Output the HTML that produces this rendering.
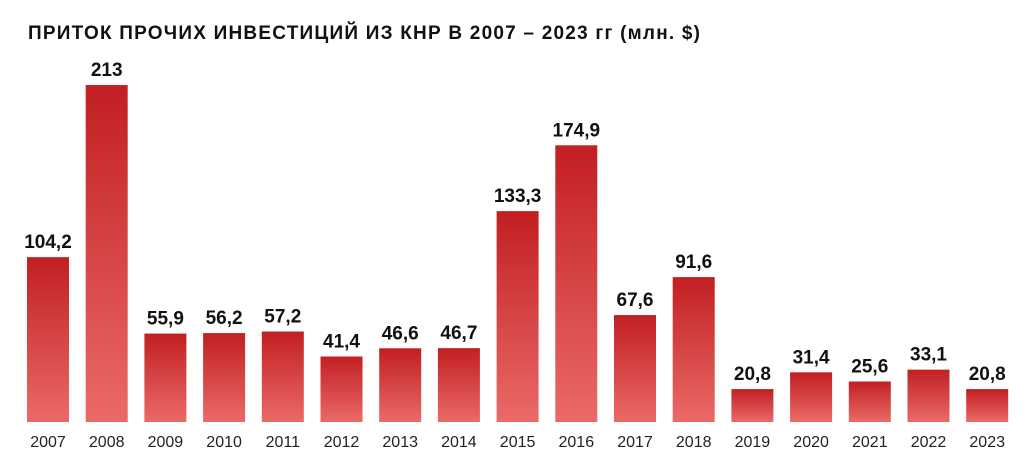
<!DOCTYPE html><html><head><meta charset="utf-8"><style>
body{margin:0;background:#fff;width:1024px;height:467px;overflow:hidden;font-family:"Liberation Sans",sans-serif}
</style></head><body>
<svg width="1024" height="467" xmlns="http://www.w3.org/2000/svg">
<defs><linearGradient id="g" x1="0" y1="0" x2="0" y2="1"><stop offset="0" stop-color="#c21f22"/><stop offset="1" stop-color="#ea6a67"/></linearGradient></defs>
<text x="28" y="39" font-size="19" font-weight="bold" fill="#111" textLength="672" lengthAdjust="spacing" font-family="Liberation Sans,sans-serif">ПРИТОК ПРОЧИХ ИНВЕСТИЦИЙ ИЗ КНР В 2007 – 2023 гг (млн. $)</text>
<g id="bars"></g>
</svg>
<script>
var d=[["2007",104.2],["2008",213],["2009",55.9],["2010",56.2],["2011",57.2],["2012",41.4],["2013",46.6],["2014",46.7],["2015",133.3],["2016",174.9],["2017",67.6],["2018",91.6],["2019",20.8],["2020",31.4],["2021",25.6],["2022",33.1],["2023",20.8]];
var s="";d.forEach(function(e,i){var x=27+i*58.7,h=e[1]*1.582,y=422-h,c=x+21;
s+='<rect x="'+x+'" y="'+y+'" width="42" height="'+h+'" fill="url(#g)"/>';
s+='<text x="'+c+'" y="'+(y-9)+'" text-anchor="middle" font-size="19" font-weight="bold" fill="#111">'+String(e[1]).replace('.',',')+'</text>';
s+='<text x="'+c+'" y="447" text-anchor="middle" font-size="16" fill="#222">'+e[0]+'</text>';});
document.getElementById("bars").innerHTML=s;
</script>
</body></html>
